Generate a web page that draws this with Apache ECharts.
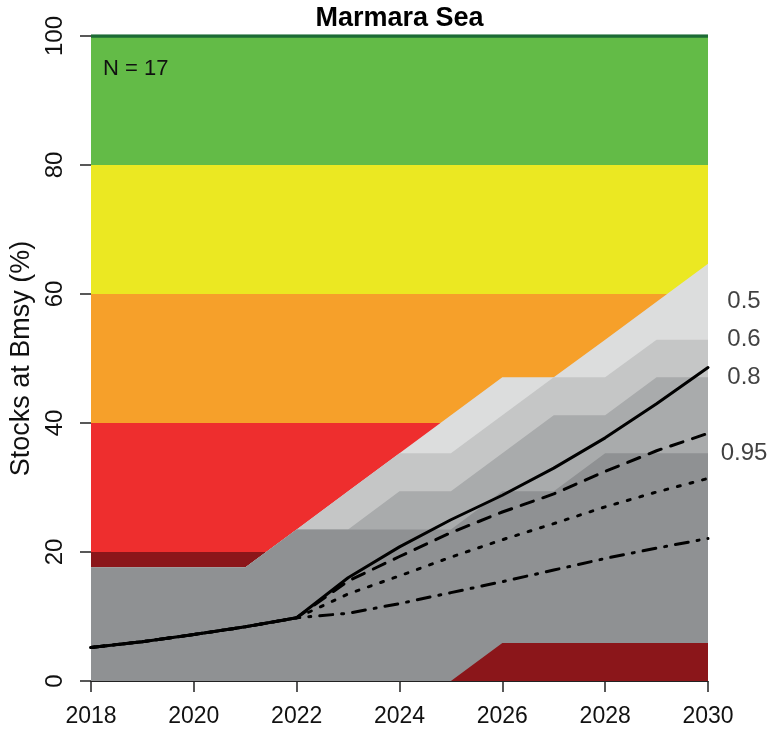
<!DOCTYPE html>
<html>
<head>
<meta charset="utf-8">
<script src="https://cdn.jsdelivr.net/npm/echarts@6/dist/echarts.min.js"></script>
<style>
  html, body { margin: 0; padding: 0; background: #ffffff; }
  #chart { width: 769px; height: 733px; }
</style>
</head>
<body>
<div id="chart"></div>
<script>
// Projection years
const years = [2018, 2019, 2020, 2021, 2022, 2023, 2024, 2025, 2026, 2027, 2028, 2029, 2030];

// Number of assessed stocks
const stockCount = 17;

// Status bands on the y axis (% of stocks at Bmsy)
const bandLimits = [0, 20, 40, 60, 80, 100];

// Share of stocks (%) reaching Bmsy at each probability level
const shareP50 = [17.6, 17.6, 17.6, 17.6, 23.5, 29.4, 35.3, 41.2, 47.1, 47.1, 52.9, 58.8, 64.7];
const shareP60 = [17.6, 17.6, 17.6, 17.6, 23.5, 29.4, 35.3, 35.3, 41.2, 47.1, 47.1, 52.9, 52.9];
const shareP80 = [17.6, 17.6, 17.6, 17.6, 23.5, 23.5, 29.4, 29.4, 35.3, 41.2, 41.2, 47.1, 47.1];
const shareP95 = [17.6, 17.6, 17.6, 17.6, 23.5, 23.5, 23.5, 23.5, 29.4, 29.4, 35.3, 35.3, 35.3];
const probLabels = ['0.5', '0.6', '0.8', '0.95'];

// Share of stocks (%) below the lower limit
const shareCollapsed = [0, 0, 0, 0, 0, 0, 0, 0, 5.9, 5.9, 5.9, 5.9, 5.9];

// Expected share of stocks at Bmsy (%) under four trajectories
const pathSolid   = [5.2, 6.1, 7.2, 8.4, 9.8, 16.0, 20.8, 25.0, 28.8, 33.0, 37.7, 43.0, 48.6];
const pathDashed  = [5.2, 6.1, 7.2, 8.4, 9.8, 15.5, 19.3, 23.0, 26.2, 29.0, 32.5, 35.7, 38.4];
const pathDotted  = [5.2, 6.1, 7.2, 8.4, 9.8, 13.5, 16.3, 19.2, 21.9, 24.4, 27.0, 29.3, 31.4];
const pathDashDot = [5.2, 6.1, 7.2, 8.4, 9.8, 10.5, 12.0, 13.7, 15.4, 17.2, 19.0, 20.6, 22.1];

const FONT = '"Liberation Sans", Arial, Helvetica, sans-serif';
const bandColors = ['#8b161a', '#ee2e2e', '#f6a02a', '#ebe822', '#63bb47'];
const greyColors = ['#dcdddd', '#c5c6c6', '#a9abac', '#8f9193'];

const pairs = (vals) => years.map((y, i) => [y, vals[i]]);

const chart = echarts.init(document.getElementById('chart'), null, { renderer: 'canvas' });

const bandAreas = bandColors.map((c, i) => [
  { yAxis: bandLimits[i], itemStyle: { color: c } },
  { yAxis: bandLimits[i + 1] }
]);

const greySeries = [shareP50, shareP60, shareP80, shareP95].map((vals, i) => ({
  type: 'line',
  name: 'p' + probLabels[i],
  data: pairs(vals),
  symbol: 'none',
  lineStyle: { width: 0 },
  areaStyle: { color: greyColors[i], opacity: 1, origin: 'start' },
  z: 3 + i * 0.01,
  silent: true,
  animation: false
}));

const lineSpec = [
  { vals: pathSolid, type: 'solid' },
  { vals: pathDashed, type: [13, 10] },
  { vals: pathDotted, type: [3, 10] },
  { vals: pathDashDot, type: [13, 9, 2, 9] }
];
const trajSeries = lineSpec.map((s) => ({
  type: 'line',
  data: pairs(s.vals),
  symbol: 'none',
  lineStyle: { color: '#000000', width: 3, type: s.type, cap: 'round', join: 'round' },
  z: 6,
  silent: true,
  animation: false
}));

// Probability labels beside the right edge, at each band's 2029 level
const idx2029 = years.indexOf(2029);
const labelData = [shareP50, shareP60, shareP80, shareP95].map((vals, i) => ({
  value: [2030, vals[idx2029]],
  name: probLabels[i]
}));

chart.setOption({
  animation: false,
  grid: { left: 91, right: 61, top: 36, bottom: 52, containLabel: false },
  xAxis: {
    type: 'value',
    min: 2018, max: 2030, interval: 2,
    splitLine: { show: false },
    axisLine: { show: true, onZero: false, lineStyle: { color: '#222', width: 1 } },
    axisTick: { show: true, inside: false, length: 11, lineStyle: { color: '#222', width: 1.5 } },
    axisLabel: { color: '#111', fontSize: 23, fontFamily: FONT, margin: 24, formatter: (v) => String(v) }
  },
  yAxis: {
    type: 'value',
    min: 0, max: 100, interval: 20,
    splitLine: { show: false },
    axisLine: { show: true, onZero: false, lineStyle: { color: '#444', width: 1 } },
    axisTick: { show: true, inside: false, length: 11, lineStyle: { color: '#222', width: 1.5 } },
    axisLabel: { color: '#111', fontSize: 24, fontFamily: FONT, margin: 24, rotate: 90 },
    name: 'Stocks at Bmsy (%)',
    nameLocation: 'middle',
    nameRotate: 90,
    nameGap: 56,
    nameTextStyle: { color: '#111', fontSize: 27, fontFamily: FONT }
  },
  graphic: [
    {
      type: 'text', x: 399.5, y: 19,
      style: { text: 'Marmara Sea', fontSize: 27, fontWeight: 'bold', fontFamily: FONT,
               fill: '#000', textAlign: 'center', textVerticalAlign: 'middle' },
      z: 20
    },
    {
      type: 'text', x: 103, y: 69,
      style: { text: 'N = ' + stockCount, fontSize: 22, fontFamily: FONT,
               fill: '#111', textAlign: 'left', textVerticalAlign: 'middle' },
      z: 20
    }
  ],
  series: [
    {
      type: 'line',
      data: [],
      silent: true,
      z: 1,
      markArea: { silent: true, z: 1, data: bandAreas }
    },
    ...greySeries,
    {
      type: 'line',
      data: pairs(shareCollapsed),
      symbol: 'none',
      lineStyle: { width: 0 },
      areaStyle: { color: bandColors[0], opacity: 1, origin: 'start' },
      z: 5,
      silent: true
    },
    ...trajSeries,
    {
      type: 'line',
      data: [[2018, 100], [2030, 100]],
      symbol: 'none',
      lineStyle: { color: '#1c6b35', width: 3.5 },
      z: 7,
      silent: true
    },
    {
      type: 'scatter',
      data: labelData,
      symbolSize: 0,
      silent: true,
      z: 8,
      label: {
        show: true,
        position: [36, 0],
        align: 'center',
        verticalAlign: 'middle',
        formatter: (p) => p.name,
        fontSize: 24,
        fontFamily: FONT,
        color: '#111'
      }
    }
  ]
});
</script>
</body>
</html>
